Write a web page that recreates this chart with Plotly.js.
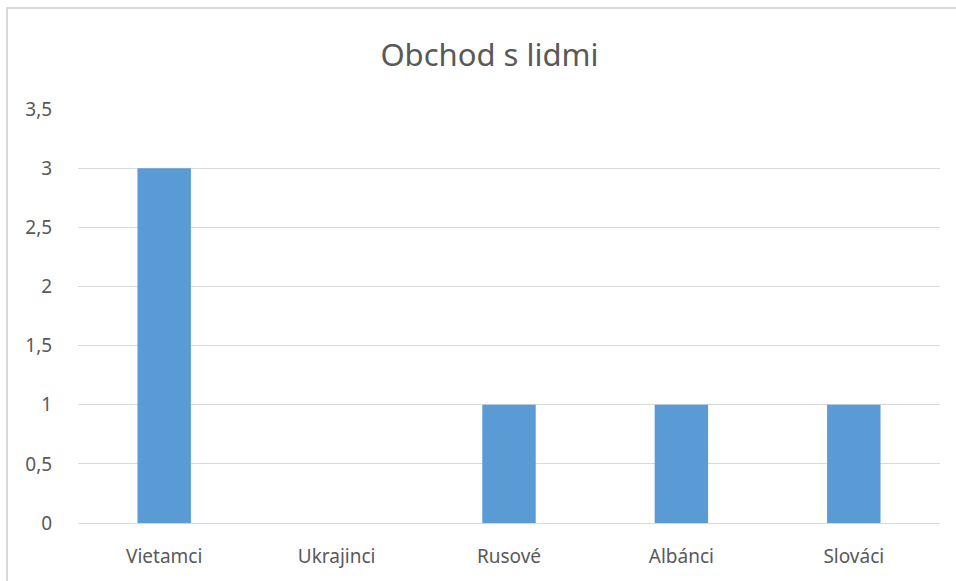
<!DOCTYPE html>
<html>
<head>
<meta charset="utf-8">
<script src="https://cdn.plot.ly/plotly-3.0.1.min.js"></script>
<style>
html,body{margin:0;padding:0;background:#fff;}
#wrap{position:relative;width:956px;height:581px;overflow:hidden;}
#chart{position:absolute;left:0;top:0;width:956px;height:581px;}
#frame{position:absolute;left:6px;top:7px;width:960px;height:590px;border-left:2px solid #d9d9d9;border-top:2px solid #d9d9d9;pointer-events:none;}
</style>
</head>
<body>
<div id="wrap"><div id="chart"></div><div id="frame"></div></div>
<script>
const categories = ["Vietamci", "Ukrajinci", "Rusové", "Albánci", "Slováci"];
const values = [3, 0, 1, 1, 1];
const yTicks = [0, 0.5, 1, 1.5, 2, 2.5, 3, 3.5];

const fontFam = '"Noto Sans", "Open Sans", sans-serif';
Plotly.newPlot('chart', [{
  type: 'bar',
  x: categories,
  y: values,
  marker: {color: '#5b9bd5'},
  hoverinfo: 'x+y'
}], {
  width: 956, height: 581,
  separators: ', ',
  margin: {l: 78, r: 16, t: 109, b: 58},
  paper_bgcolor: '#ffffff',
  plot_bgcolor: '#ffffff',
  bargap: 0.69,
  title: {text: 'Obchod s lidmi', x: 0.512, xanchor: 'center', y: 0.905, yanchor: 'middle',
          font: {family: fontFam, size: 31, color: '#595959'}},
  xaxis: {
    type: 'category',
    tickfont: {family: fontFam, size: 19, color: '#595959'},
    showgrid: false, showline: false, zeroline: false,
    ticks: 'outside', ticklen: 16, tickcolor: 'rgba(0,0,0,0)'
  },
  yaxis: {
    range: [0, 3.5],
    tickvals: yTicks,
    tickfont: {family: fontFam, size: 19, color: '#595959'},
    showgrid: true, gridcolor: '#d9d9d9', gridwidth: 1,
    zeroline: true, zerolinecolor: '#d9d9d9', zerolinewidth: 1,
    showline: false,
    ticks: 'outside', ticklen: 21, tickcolor: 'rgba(0,0,0,0)'
  },
  showlegend: false
}, {displayModeBar: false, staticPlot: false});
</script>
</body>
</html>
